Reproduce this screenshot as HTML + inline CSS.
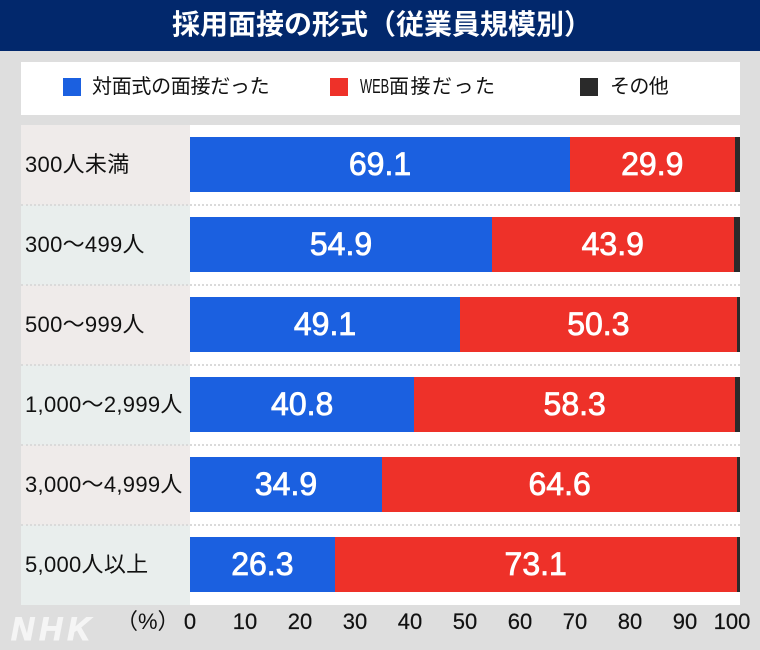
<!DOCTYPE html>
<html><head><meta charset="utf-8">
<style>
*{margin:0;padding:0;box-sizing:border-box}
body{width:760px;height:650px;background:#dedede;position:relative;overflow:hidden;font-family:"Liberation Sans","Noto Sans CJK JP",sans-serif;color:#111}
.abs{position:absolute}
.title{left:0;top:0;width:760px;height:51px;background:#02286c;color:#fff;font-size:28px;font-weight:bold;text-align:center;line-height:50px;padding-left:4px}
.legend{left:21px;top:62px;width:719px;height:53px;background:#fff}
.sq{width:18px;height:18px;top:78px}
.lt{top:72px;font-size:20px;line-height:30px;white-space:nowrap}
.lab{left:21px;width:169px;height:80px;font-size:22px;line-height:80px;padding-left:4px;white-space:nowrap;letter-spacing:0.3px}
.pink{background:#efebea}
.green{background:#e9eeed}
.plot{left:190px;top:125px;width:550px;height:480px;background:#fff}
.sep{left:21px;width:719px;height:0;border-top:2px dotted #dadada}
.bar{height:55px}
.b{background:#1b60e0}
.r{background:#ee3129}
.k{background:#2a2a2a}
.v{color:#fff;font-size:32px;line-height:55px;text-align:center;-webkit-text-stroke:0.8px #fff;white-space:nowrap}
.tk{top:608px;font-size:22px;line-height:28px;width:60px;text-align:center;margin-left:-30px;-webkit-text-stroke:0.2px #111}
.nhk{left:11px;top:609px;font-size:32px;font-weight:bold;font-style:italic;color:#f5f5f5;line-height:40px;letter-spacing:5px;-webkit-text-stroke:1px #f5f5f5}
</style></head><body>
<div class="abs title">採用面接の形式（従業員規模別）</div>
<div class="abs legend"></div>
<div class="abs sq b" style="left:63px"></div>
<div class="abs lt" style="left:92px;letter-spacing:-0.3px">対面式の面接だった</div>
<div class="abs sq r" style="left:330px"></div>
<div class="abs lt" style="left:360px"><span style="display:inline-block;transform:scaleX(0.64);transform-origin:left center;width:29px;font-size:20px">WEB</span><span style="letter-spacing:1.5px">面接だった</span></div>
<div class="abs sq k" style="left:580px"></div>
<div class="abs lt" style="left:610px;letter-spacing:-0.6px">その他</div>

<div class="abs plot"></div>

<div class="abs lab pink" style="top:125px">300人未満</div>
<div class="abs lab green" style="top:205px">300～499人</div>
<div class="abs lab pink" style="top:285px">500～999人</div>
<div class="abs lab green" style="top:365px">1,000～2,999人</div>
<div class="abs lab pink" style="top:445px">3,000～4,999人</div>
<div class="abs lab green" style="top:525px">5,000人以上</div>

<div class="abs sep" style="top:204px"></div>
<div class="abs sep" style="top:284px"></div>
<div class="abs sep" style="top:364px"></div>
<div class="abs sep" style="top:444px"></div>
<div class="abs sep" style="top:524px"></div>

<!-- row1 -->
<div class="abs bar b v" style="top:137px;left:190px;width:380px">69.1</div>
<div class="abs bar r v" style="top:137px;left:570px;width:164.5px">29.9</div>
<div class="abs bar k" style="top:137px;left:734.5px;width:5.5px"></div>
<!-- row2 -->
<div class="abs bar b v" style="top:217px;left:190px;width:302px">54.9</div>
<div class="abs bar r v" style="top:217px;left:492px;width:241.5px">43.9</div>
<div class="abs bar k" style="top:217px;left:733.5px;width:6.5px"></div>
<!-- row3 -->
<div class="abs bar b v" style="top:297px;left:190px;width:270px">49.1</div>
<div class="abs bar r v" style="top:297px;left:460px;width:276.7px">50.3</div>
<div class="abs bar k" style="top:297px;left:736.7px;width:3.3px"></div>
<!-- row4 -->
<div class="abs bar b v" style="top:377px;left:190px;width:224.4px">40.8</div>
<div class="abs bar r v" style="top:377px;left:414.4px;width:320.6px">58.3</div>
<div class="abs bar k" style="top:377px;left:735px;width:5px"></div>
<!-- row5 -->
<div class="abs bar b v" style="top:457px;left:190px;width:192px">34.9</div>
<div class="abs bar r v" style="top:457px;left:382px;width:355.3px">64.6</div>
<div class="abs bar k" style="top:457px;left:737.3px;width:2.7px"></div>
<!-- row6 -->
<div class="abs bar b v" style="top:537px;left:190px;width:144.7px">26.3</div>
<div class="abs bar r v" style="top:537px;left:334.7px;width:402px">73.1</div>
<div class="abs bar k" style="top:537px;left:736.7px;width:3.3px"></div>

<div class="abs nhk">NHK</div>
<div class="abs" style="left:116px;top:608px;font-size:22px;line-height:28px;white-space:nowrap">（%）</div>
<div class="abs tk" style="left:190px">0</div>
<div class="abs tk" style="left:245px">10</div>
<div class="abs tk" style="left:300px">20</div>
<div class="abs tk" style="left:355px">30</div>
<div class="abs tk" style="left:410px">40</div>
<div class="abs tk" style="left:465px">50</div>
<div class="abs tk" style="left:520px">60</div>
<div class="abs tk" style="left:575px">70</div>
<div class="abs tk" style="left:630px">80</div>
<div class="abs tk" style="left:685px">90</div>
<div class="abs tk" style="left:732px">100</div>
</body></html>
